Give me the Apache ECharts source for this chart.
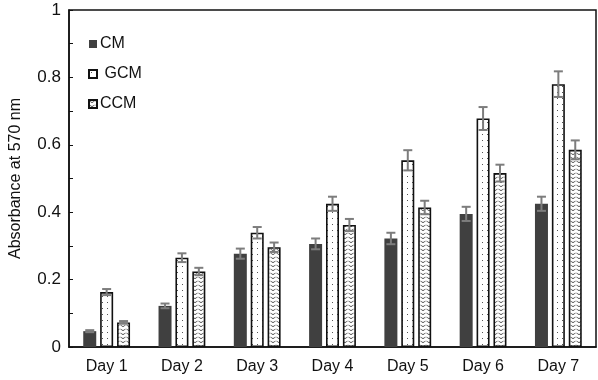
<!DOCTYPE html>
<html><head><meta charset="utf-8">
<script src="https://cdn.jsdelivr.net/npm/echarts@6/dist/echarts.min.js"></script>
<style>html,body{margin:0;padding:0;background:#fff}#c{width:598px;height:380px}</style>
</head><body><div id="c"></div>
<script>
var categories = ['Day 1','Day 2','Day 3','Day 4','Day 5','Day 6','Day 7'];
var seriesNames = ['CM','GCM','CCM'];
var cmValues  = [0.047, 0.122, 0.277, 0.306, 0.322, 0.395, 0.425];
var gcmValues = [0.163, 0.265, 0.339, 0.425, 0.554, 0.678, 0.780];
var ccmValues = [0.073, 0.224, 0.296, 0.362, 0.414, 0.516, 0.585];
var cmErrors  = [0.003, 0.007, 0.015, 0.016, 0.017, 0.021, 0.021];
var gcmErrors = [0.009, 0.013, 0.017, 0.021, 0.030, 0.034, 0.038];
var ccmErrors = [0.004, 0.011, 0.014, 0.018, 0.020, 0.025, 0.028];
var yTicks = [0, 0.2, 0.4, 0.6, 0.8, 1];

function makePattern(kind){
  var c = document.createElement('canvas');
  var ctx = c.getContext('2d');
  if(kind==='dots'){
    c.width=5; c.height=6;
    ctx.fillStyle='#fff'; ctx.fillRect(0,0,5,6);
    ctx.fillStyle='#555'; ctx.fillRect(2,2,1,1);
  } else {
    c.width=6; c.height=4;
    ctx.fillStyle='#fff'; ctx.fillRect(0,0,6,4);
    ctx.strokeStyle='#555'; ctx.lineWidth=1;
    ctx.beginPath(); ctx.moveTo(0.5,0.8); ctx.quadraticCurveTo(3,4.2,5.5,0.8); ctx.stroke();
  }
  return {image:c, repeat:'repeat'};
}

var barWidth = 13, gapRatio = 0.3;
var allValues = [cmValues, gcmValues, ccmValues];
var allErrors = [cmErrors, gcmErrors, ccmErrors];
var styles = [
  {color:'#404040'},
  {color:makePattern('dots'), borderColor:'#111', borderWidth:1.6},
  {color:makePattern('wave'), borderColor:'#111', borderWidth:1.6}
];

var series = [];
for (var i=0;i<3;i++){
  series.push({
    name: seriesNames[i], type:'bar', barWidth:barWidth, barGap:(gapRatio*100)+'%',
    itemStyle: styles[i], data: allValues[i], z:2
  });
}
for (var j=0;j<3;j++){
  (function(j){
    var data = allValues[j].map(function(v,k){return [k, v, allErrors[j][k]];});
    series.push({
      type:'custom', name:'err'+j, z:5, silent:true,
      data:data,
      encode:{x:0,y:1},
      renderItem:function(params, api){
        var k = api.value(0), v = api.value(1), e = api.value(2);
        var off = (j-1)*barWidth*(1+gapRatio);
        var top = api.coord([k, v+e]), bot = api.coord([k, v-e]);
        var x = top[0]+off, hw = 4.5;
        var st = {stroke:'#7d7d7d', lineWidth:2};
        return {type:'group', children:[
          {type:'line', shape:{x1:x,y1:top[1],x2:x,y2:bot[1]}, style:st},
          {type:'line', shape:{x1:x-hw,y1:top[1],x2:x+hw,y2:top[1]}, style:st},
          {type:'line', shape:{x1:x-hw,y1:bot[1],x2:x+hw,y2:bot[1]}, style:st}
        ]};
      }
    });
  })(j);
}

var chart = echarts.init(document.getElementById('c'), null, {renderer:'canvas'});
chart.setOption({
  animation:false,
  textStyle:{fontFamily:'Liberation Sans, Arial, sans-serif'},
  grid:{left:62, right:2, top:10, bottom:33, show:true, borderColor:'#111', borderWidth:1.5, backgroundColor:'transparent'},
  legend:{
    data:seriesNames, orient:'vertical', left:83, top:31, itemWidth:8, itemHeight:8, itemGap:14,
    icon:'rect',
    formatter:function(n){return n==='GCM' ? ' GCM' : n;},
    textStyle:{fontSize:16, color:'#111', fontFamily:'Liberation Sans, Arial, sans-serif', padding:[0,0,0,-2]}
  },
  xAxis:{
    type:'category', data:categories,
    axisLine:{lineStyle:{color:'#111', width:1.5}},
    axisTick:{show:false},
    axisLabel:{fontSize:16, color:'#111', margin:12}
  },
  yAxis:{
    type:'value', min:0, max:1, interval:0.2,
    name:'Absorbance at 570 nm', nameLocation:'middle', nameGap:45,
    nameTextStyle:{fontSize:16, color:'#111'},
    axisLine:{show:true, lineStyle:{color:'#111', width:1.5}},
    axisTick:{show:true, inside:true, length:4, lineStyle:{color:'#111'}},
    minorTick:{show:true, splitNumber:2, length:4, lineStyle:{color:'#111'}},
    splitLine:{show:false},
    axisLabel:{fontSize:17, color:'#111', margin:8, formatter:function(v){
      var t = yTicks.filter(function(x){return Math.abs(x-v)<1e-9;});
      return t.length ? String(t[0]) : '';
    }}
  },
  series: series
});
</script></body></html>
